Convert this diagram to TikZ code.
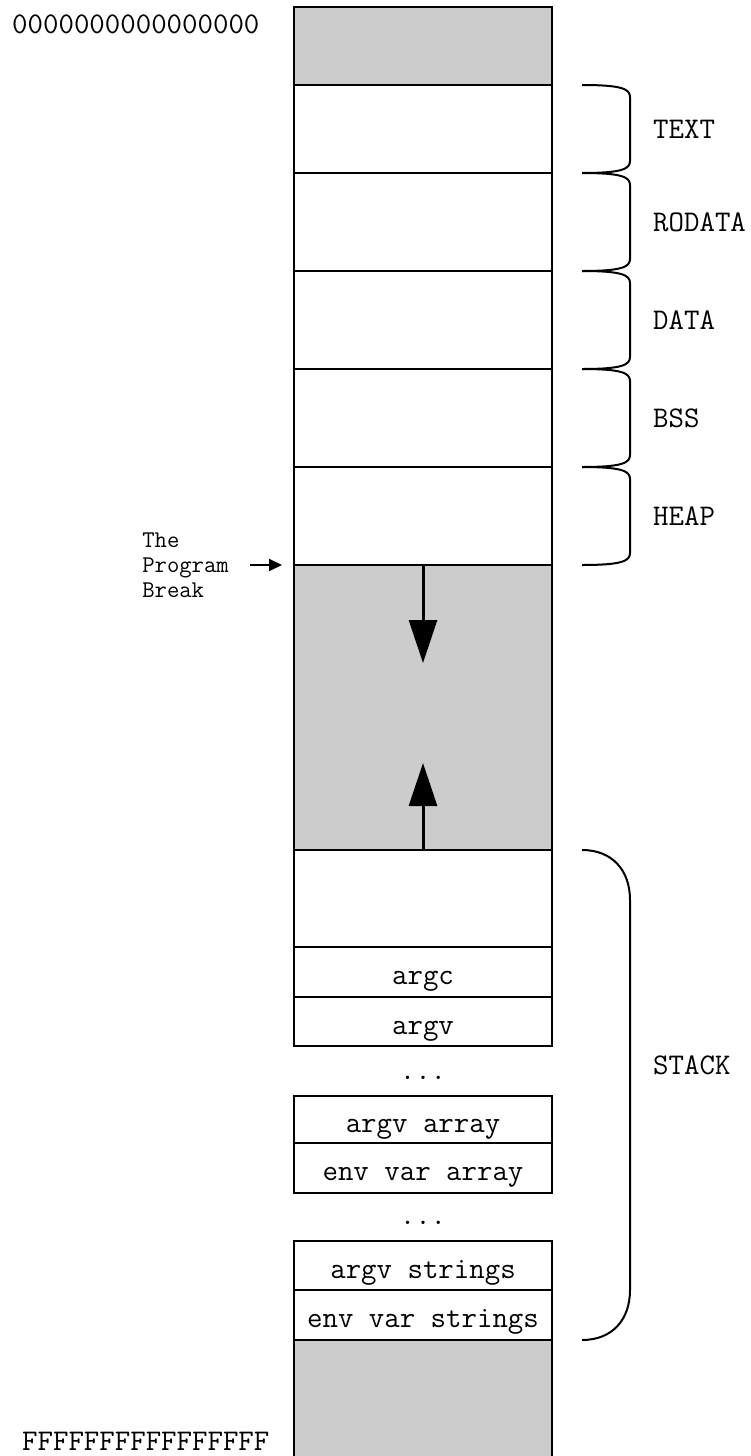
\documentclass[tikz,border=0pt]{standalone}
\usepackage{fontspec}
\usetikzlibrary{arrows.meta,positioning}
\tikzset{
  seg/.style={draw, line width=2pt, outer sep=0pt, inner sep=0pt, minimum width=258pt,
    text height=29pt, text depth=4pt, font=\ttfamily\fontsize{30}{32}\selectfont},
  gap/.style={seg, fill=black!20},
  lbl/.style={anchor=west, inner sep=0pt, font=\ttfamily\fontsize{30}{32}\selectfont},
  segbrace/.style={line width=2pt},
  growarrow/.style={line width=3pt, -{Triangle[length=43pt,width=28pt]}},
  brkarrow/.style={line width=2pt, -{Triangle[length=13pt,width=12pt]}}
}
\begin{document}
\begin{tikzpicture}[x=1pt,y=-1pt]
    \useasboundingbox (0,0) rectangle (751,1456);
    % Address ends
    \node[lbl] (low) at (12,24) {0000000000000000};
    \node[lbl] (high) at (22,1441) {FFFFFFFFFFFFFFFF};
    % Segments
    \node[gap, minimum height=78pt] (unmapped) at (423,46) {};
    \node[seg, minimum height=88pt] (text) at (423,129) {};
    \node[seg, minimum height=98pt] (rodata) at (423,222) {};
    \node[seg, minimum height=98pt] (data) at (423,320) {};
    \node[seg, minimum height=98pt] (bss) at (423,418) {};
    \node[seg, minimum height=98pt] (heap) at (423,516) {};
    \node[gap, minimum height=285pt] (free) at (423,707.5) {};
    % Stack
    \node[seg, minimum height=97pt] (stk) at (423,898.5) {};
    \node[seg, minimum height=50pt] (argc) at (423,972) {argc};
    \node[seg, minimum height=49pt] (argv) at (423,1021.5) {argv};
    \node[anchor=base, inner sep=0pt, font=\ttfamily\fontsize{30}{32}\selectfont] (dotsa) at (423,1079) {...};
    \node[seg, minimum height=47pt] (argvarr) at (423,1119.5) {argv array};
    \node[seg, minimum height=50pt] (envarr) at (423,1168) {env var array};
    \node[anchor=base, inner sep=0pt, font=\ttfamily\fontsize{30}{32}\selectfont] (dotsb) at (423,1224) {...};
    \node[seg, minimum height=49pt] (argvstr) at (423,1265.5) {argv strings};
    \node[seg, minimum height=50pt] (envstr) at (423,1315) {env var strings};
    \node[gap, minimum height=130pt] (kernel) at (423,1405) {};
    % Braces and names
    \foreach \s/\t in {text/TEXT, rodata/RODATA, data/DATA, bss/BSS, heap/HEAP}{
      \draw[segbrace] ([xshift=30pt]\s.north east) .. controls +(40pt,0) and +(0,8pt) .. ([xshift=78pt,yshift=-12pt]\s.north east)
        -- ([xshift=78pt,yshift=12pt]\s.south east) .. controls +(0,-8pt) and +(40pt,0) .. ([xshift=30pt]\s.south east);
      \node[lbl] (n\s) at ([xshift=101pt]\s.east) {\t};
    }
    \draw[segbrace] ([xshift=30pt]stk.north east) .. controls +(30pt,0) and +(0,30pt) .. ([xshift=78pt,yshift=-50pt]stk.north east)
      -- ([xshift=78pt,yshift=50pt]envstr.south east) .. controls +(0,-30pt) and +(30pt,0) .. ([xshift=30pt]envstr.south east);
    \node[lbl] (nstack) at (653,1065) {STACK};
    % Heap and stack growth
    \draw[growarrow] (free.north) -- ([yshift=-98pt]free.north);
    \draw[growarrow] (free.south) -- ([yshift=87pt]free.south);
    % Program break
    \node[left=65pt of heap.south west, anchor=east, align=left, inner sep=0pt,
      font=\ttfamily\fontsize{24}{25}\selectfont] (brk) {The\\Program\\Break};
    \draw[brkarrow] ([xshift=21pt]brk.east) -- ([xshift=-12pt]heap.south west);
\end{tikzpicture}
\end{document}
